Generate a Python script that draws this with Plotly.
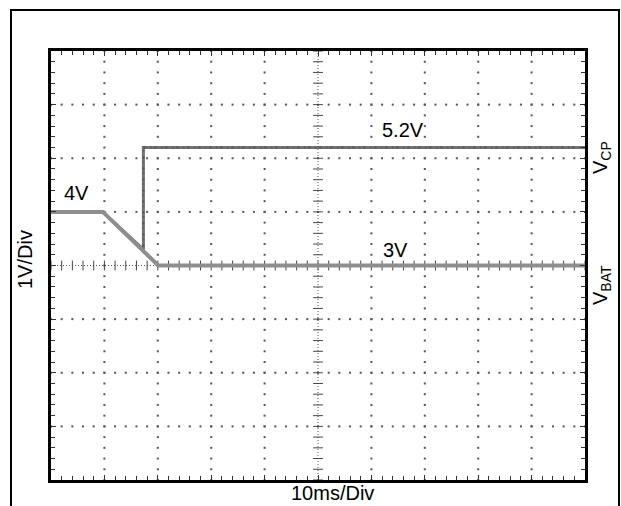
import numpy as np
import plotly.graph_objects as go

# Waveform data (time in ms, voltage in V)
t_bat = [0, 9.7, 20.1, 100]
v_bat = [4.0, 4.0, 3.0, 3.0]
t_cp = [0, 9.7, 17.3, 17.3, 100]
v_cp = [4.0, 4.0, 3.3, 5.2, 5.2]

# Level labels
level_text = ["4V", "5.2V", "3V"]
level_t = [4.7, 65.9, 64.6]
level_v = [4.0, 5.2, 3.0]

X_RANGE = [0, 100]
Y_RANGE = [-1, 7]
X_DIV, Y_DIV = 10, 1
X_MINOR, Y_MINOR = 2, 0.2
X_CENTER, Y_CENTER = 50, 3

W, H = 621, 506
L, R, T, B = 51, 36, 51, 26
plot_w = W - L - R
plot_h = H - T - B


def px_to_paper(px, py):
    return (px - L) / plot_w, (H - B - py) / plot_h


fig = go.Figure()

# Dotted graticule: dots at every minor step along each major division line
x_major = np.arange(X_RANGE[0] + X_DIV, X_RANGE[1], X_DIV)
y_major = np.arange(Y_RANGE[0] + Y_DIV, Y_RANGE[1] - 1e-9, Y_DIV)
x_minor = np.arange(X_RANGE[0], X_RANGE[1] + 1e-9, X_MINOR)
y_minor = np.arange(Y_RANGE[0], Y_RANGE[1] + 1e-9, Y_MINOR)

gx, gy = [], []
for xm in x_major:
    if abs(xm - X_CENTER) < 1e-9:
        continue
    gx += [xm] * len(y_minor)
    gy += list(y_minor)
for ym in y_major:
    if abs(ym - Y_CENTER) < 1e-9:
        continue
    gx += list(x_minor)
    gy += [ym] * len(x_minor)
fig.add_trace(go.Scatter(x=gx, y=gy, mode="markers", hoverinfo="skip",
                         marker=dict(symbol="square", size=2, color="#555",
                                     line=dict(width=0))))

# Centre cross: densely dotted lines with small cross ticks
fig.add_trace(go.Scatter(x=[X_CENTER, X_CENTER], y=Y_RANGE, mode="lines", hoverinfo="skip",
                         line=dict(color="#555", width=1, dash="1px,2px")))
fig.add_trace(go.Scatter(x=X_RANGE, y=[Y_CENTER, Y_CENTER], mode="lines", hoverinfo="skip",
                         line=dict(color="#555", width=1, dash="1px,2px")))
fig.add_trace(go.Scatter(x=[X_CENTER] * len(y_minor), y=y_minor, mode="markers", hoverinfo="skip",
                         marker=dict(symbol="line-ew", size=7, color="#444",
                                     line=dict(width=1, color="#444"))))
fig.add_trace(go.Scatter(x=x_minor, y=[Y_CENTER] * len(x_minor), mode="markers", hoverinfo="skip",
                         marker=dict(symbol="line-ns", size=7, color="#444",
                                     line=dict(width=1, color="#444"))))

# Waveforms
fig.add_trace(go.Scatter(x=t_cp, y=v_cp, mode="lines", name="VCP",
                         line=dict(color="#727272", width=3)))
fig.add_trace(go.Scatter(x=t_cp, y=v_cp, mode="lines", hoverinfo="skip",
                         line=dict(color="#555", width=2, dash="2px,5px,1px,3px")))
fig.add_trace(go.Scatter(x=t_bat, y=v_bat, mode="lines", name="VBAT",
                         line=dict(color="#8e8e8e", width=4)))

font = dict(family="Liberation Sans, Arial, sans-serif", size=20, color="black")
annotations = []
label_dy = [0.35, 0.33, 0.29]
for txt, t, v, dy in zip(level_text, level_t, level_v, label_dy):
    annotations.append(dict(x=t, y=v + dy, xref="x", yref="y", text=txt,
                            showarrow=False, font=font))

for txt, px, py, ang in [("10ms/Div", 332, 493, 0),
                         ("1V/Div", 25, 260, -90),
                         ("V<sub>CP</sub>", 601, 158, -90),
                         ("V<sub>BAT</sub>", 601, 285, -90)]:
    xp, yp = px_to_paper(px, py)
    annotations.append(dict(x=xp, y=yp, xref="paper", yref="paper", text=txt,
                            showarrow=False, textangle=ang, font=font,
                            xanchor="center", yanchor="middle"))

# Outer frame, open at the bottom
fx0, fy0 = px_to_paper(11, 10)
fx1, fyb = px_to_paper(619, 520)
frame = dict(type="path", xref="paper", yref="paper",
             path=f"M {fx0} {fyb} L {fx0} {fy0} L {fx1} {fy0} L {fx1} {fyb}",
             line=dict(color="black", width=2))

axis_common = dict(showgrid=False, zeroline=False, showline=True, linewidth=3,
                   linecolor="black", mirror="ticks", ticks="inside", ticklen=5,
                   tickwidth=1, tickcolor="#333", showticklabels=False, fixedrange=True)

fig.update_layout(
    width=W, height=H,
    margin=dict(l=L, r=R, t=T, b=B),
    paper_bgcolor="white", plot_bgcolor="white",
    showlegend=False,
    annotations=annotations,
    shapes=[frame],
    xaxis=dict(range=X_RANGE, dtick=X_DIV, tick0=0,
               minor=dict(ticks="inside", dtick=X_MINOR, ticklen=4, tickcolor="#333", showgrid=False),
               **axis_common),
    yaxis=dict(range=Y_RANGE, dtick=Y_DIV, tick0=0,
               minor=dict(ticks="inside", dtick=Y_MINOR, ticklen=4, tickcolor="#333", showgrid=False),
               **axis_common),
)

fig.write_html("out.html")
